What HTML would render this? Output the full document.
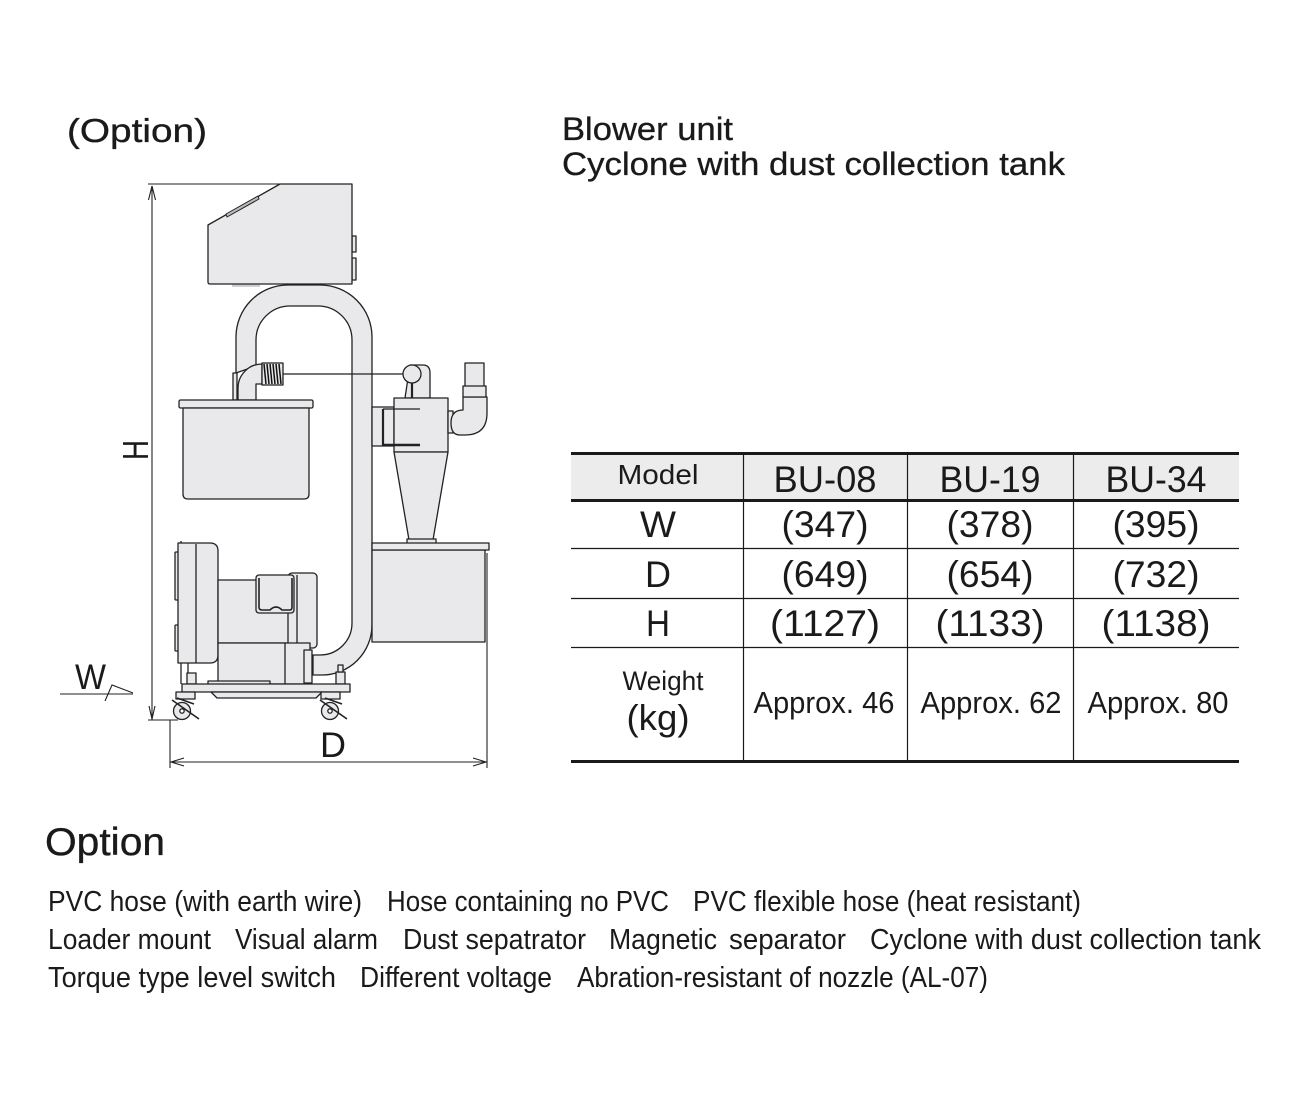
<!DOCTYPE html>
<html><head><meta charset="utf-8"><style>
html,body{margin:0;padding:0;background:#fff;}
svg{display:block;}
text{font-family:"Liberation Sans",sans-serif;fill:#1a1a1a;}
</style></head><body>
<svg width="1296" height="1100" viewBox="0 0 1296 1100" xmlns="http://www.w3.org/2000/svg">
<rect width="1296" height="1100" fill="#fff"/>

<!-- Titles -->
<text x="67" y="142" font-size="33" stroke="#1a1a1a" stroke-width="0.35" textLength="140" lengthAdjust="spacingAndGlyphs">(Option)</text>
<text x="562" y="140" font-size="32" stroke="#1a1a1a" stroke-width="0.3" textLength="171" lengthAdjust="spacingAndGlyphs">Blower unit</text>
<text x="562" y="175" font-size="32" stroke="#1a1a1a" stroke-width="0.3" textLength="503" lengthAdjust="spacingAndGlyphs">Cyclone with dust collection tank</text>

<!-- ===== Machine drawing ===== -->
<g stroke="#222" stroke-width="1.3" fill="#e9e9ec" stroke-linejoin="round">
  <!-- Top blower box -->
  <rect x="232" y="283" width="28" height="4" fill="#cfcfd3" stroke="none"/>
  <rect x="352" y="236" width="4" height="16" fill="#e9e9ec"/>
  <rect x="352" y="258" width="4" height="22" fill="#e9e9ec"/>
  <path d="M208,225 L280,184 L352,184 L352,284 L210,284 Q208,284 208,282 Z"/>
  <path d="M226,214 L258,196 L259,199 L227,217 Z" fill="#bbb" stroke-width="1"/>

  <!-- hose arch -->
  <path d="M236,373 L236,337 A52,52 0 0 1 288,285 L320,285 A52,52 0 0 1 372,337 L372,625 A50,50 0 0 1 322,675 L313,675 L313,655 L320,655 A32,32 0 0 0 352,623 L352,340 A34,34 0 0 0 318,306 L290,306 A34,34 0 0 0 256,340 L256,366 Z"/>

  <!-- left small pipe + elbow -->
  <rect x="233" y="373" width="4" height="27"/>
  <path d="M238,400 L238,388 A24,24 0 0 1 262,364 L262,384 L256,384 L256,400 Z"/>
  <!-- coil -->
  <rect x="262" y="363" width="21" height="22" fill="#e9e9ec"/>
  <g stroke-width="1.5" fill="none" stroke="#111">
    <path d="M264,364 L266,384 M267,364 L269,384 M270,364 L272,384 M273,364 L275,384 M276,364 L278,384 M279,364 L281,384"/>
  </g>
  <!-- wire -->
  <line x1="283" y1="374" x2="403" y2="374" fill="none"/>

  <!-- hopper -->
  <rect x="179" y="400" width="134" height="8" rx="1.5"/>
  <path d="M183,408 L183,494 Q183,499 188,499 L304,499 Q309,499 309,494 L309,408 Z"/>

  <!-- cyclone outlet pipe behind circle -->
  <path d="M410,365 L423,365 Q430,365 430,373 L430,398 L405,398 Z"/>
  <circle cx="412" cy="374" r="9"/>
  <line x1="412" y1="383" x2="412" y2="398" stroke-width="2.2"/>
  <!-- cyclone inlet -->
  <rect x="372" y="407" width="22" height="39"/>
  <!-- cyclone body -->
  <rect x="394" y="398" width="54" height="54"/>
  <line x1="383" y1="409" x2="383" y2="446" stroke-width="2.2"/>
  <line x1="383" y1="409" x2="420" y2="409"/>
  <line x1="383" y1="445" x2="420" y2="445" stroke-width="2.6"/>
  <path d="M394,452 L448,452 L433,540 L409,540 Z"/>
  <rect x="407" y="539" width="29" height="5"/>
  <!-- right outlet elbow -->
  <rect x="448" y="411" width="5" height="22"/>
  <rect x="465" y="363" width="19" height="24"/>
  <path d="M463,397 L487,397 L487,413 Q487,435 465,435 L460,435 Q451,435 451,423 Q451,410 463,410 Z"/>
  <rect x="463" y="386" width="23" height="11"/>

  <!-- dust tank -->
  <rect x="372" y="550" width="113" height="92"/>
  <rect x="372" y="543" width="117" height="7"/>

  <!-- Blower unit lower -->
  <line x1="181" y1="541" x2="181" y2="684"/>
  <rect x="175" y="552" width="5" height="48" rx="1"/>
  <rect x="175" y="625" width="5" height="26" rx="1"/>
  <path d="M178,543 L210,543 Q218,543 218,551 L218,655 Q218,663 210,663 L178,663 Z"/>
  <line x1="196" y1="544" x2="196" y2="663"/>
  <rect x="218" y="580" width="72" height="63"/>
  <rect x="288" y="573" width="29" height="75" rx="4"/>
  <line x1="297" y1="575" x2="297" y2="646"/>
  <rect x="256" y="575" width="38" height="38" rx="3"/>
  <path d="M259,578 L259,607 Q259,610 262,610 L270,610 Q276,604 282,610 L290,610 Q292,610 292,607 L292,578" fill="none" stroke-width="1.6"/>
  <rect x="218" y="643" width="92" height="41"/>
  <line x1="285" y1="643" x2="285" y2="684"/>
  <rect x="304" y="650" width="8" height="33"/>
  <rect x="187" y="673" width="9" height="11"/>
  <line x1="188" y1="663" x2="188" y2="673"/>
  <rect x="336" y="672" width="9" height="12"/>
  <rect x="338" y="665" width="5" height="7"/>
  <rect x="208" y="681" width="62" height="4"/>
  <rect x="182" y="684" width="168" height="8"/>
  <path d="M211,692 L322,692 L316,698 L217,698 Z"/>
  <!-- casters -->
  <rect x="176" y="692" width="19" height="7"/>
  <rect x="321" y="692" width="19" height="7"/>
  <circle cx="182" cy="711" r="8.5"/>
  <circle cx="182" cy="711" r="2.2" fill="#fff"/>
  <circle cx="330" cy="711" r="8.5"/>
  <circle cx="330" cy="711" r="2.2" fill="#fff"/>
  <g fill="none" stroke-width="1.6">
    <path d="M172,700 L199,719 M177,698 L194,704"/>
    <path d="M320,700 L347,719 M325,698 L342,704"/>
  </g>
</g>

<!-- Dimension lines -->
<g stroke="#222" stroke-width="1.1" fill="none">
  <line x1="152" y1="186" x2="152" y2="720"/>
  <line x1="148" y1="184" x2="280" y2="184"/>
  <path d="M148.5,200 L152,186 L155.5,200"/>
  <line x1="148" y1="720" x2="178" y2="720"/>
  <path d="M149,706 L152,719 L155,706"/>
  <line x1="170" y1="720" x2="170" y2="768"/>
  <line x1="487" y1="553" x2="487" y2="768"/>
  <line x1="170" y1="762" x2="487" y2="762"/>
  <path d="M184,758 L171,762 L184,766"/>
  <path d="M473,758 L486,762 L473,766"/>
  <line x1="60" y1="694" x2="133" y2="694"/>
  <path d="M105,701 L112,685 L133,693"/>
</g>
<text x="0" y="0" font-size="36" transform="translate(148,450) rotate(-90)" text-anchor="middle" textLength="20" lengthAdjust="spacingAndGlyphs">H</text>
<text x="75" y="689" font-size="35" textLength="31" lengthAdjust="spacingAndGlyphs">W</text>
<text x="333" y="757" font-size="35" text-anchor="middle" textLength="26" lengthAdjust="spacingAndGlyphs">D</text>

<!-- ===== Table ===== -->
<rect x="571" y="454" width="668" height="46" fill="#ececec"/>
<g stroke="#1a1a1a">
  <line x1="571" y1="453.5" x2="1239" y2="453.5" stroke-width="3"/>
  <line x1="571" y1="500.5" x2="1239" y2="500.5" stroke-width="3"/>
  <line x1="571" y1="548.5" x2="1239" y2="548.5" stroke-width="1.2"/>
  <line x1="571" y1="598.5" x2="1239" y2="598.5" stroke-width="1.2"/>
  <line x1="571" y1="647.5" x2="1239" y2="647.5" stroke-width="1.2"/>
  <line x1="571" y1="761.5" x2="1239" y2="761.5" stroke-width="3"/>
  <line x1="743.5" y1="453" x2="743.5" y2="761" stroke-width="1.2"/>
  <line x1="907.5" y1="453" x2="907.5" y2="761" stroke-width="1.2"/>
  <line x1="1073.5" y1="453" x2="1073.5" y2="761" stroke-width="1.2"/>
</g>
<g text-anchor="middle">
  <text x="658" y="484" font-size="28" textLength="81" lengthAdjust="spacingAndGlyphs">Model</text>
  <text x="825" y="492" font-size="37" textLength="103" lengthAdjust="spacingAndGlyphs">BU-08</text>
  <text x="990" y="492" font-size="37" textLength="101" lengthAdjust="spacingAndGlyphs">BU-19</text>
  <text x="1156" y="492" font-size="37" textLength="101" lengthAdjust="spacingAndGlyphs">BU-34</text>

  <text x="658" y="537" font-size="37" textLength="36" lengthAdjust="spacingAndGlyphs">W</text>
  <text x="825" y="537" font-size="37" textLength="87" lengthAdjust="spacingAndGlyphs">(347)</text>
  <text x="990" y="537" font-size="37" textLength="87" lengthAdjust="spacingAndGlyphs">(378)</text>
  <text x="1156" y="537" font-size="37" textLength="87" lengthAdjust="spacingAndGlyphs">(395)</text>

  <text x="658" y="587" font-size="37" textLength="26" lengthAdjust="spacingAndGlyphs">D</text>
  <text x="825" y="587" font-size="37" textLength="87" lengthAdjust="spacingAndGlyphs">(649)</text>
  <text x="990" y="587" font-size="37" textLength="87" lengthAdjust="spacingAndGlyphs">(654)</text>
  <text x="1156" y="587" font-size="37" textLength="87" lengthAdjust="spacingAndGlyphs">(732)</text>

  <text x="658" y="636" font-size="37" textLength="24" lengthAdjust="spacingAndGlyphs">H</text>
  <text x="825" y="636" font-size="37" textLength="110" lengthAdjust="spacingAndGlyphs">(1127)</text>
  <text x="990" y="636" font-size="37" textLength="109" lengthAdjust="spacingAndGlyphs">(1133)</text>
  <text x="1156" y="636" font-size="37" textLength="109" lengthAdjust="spacingAndGlyphs">(1138)</text>

  <text x="663" y="690" font-size="27" textLength="81" lengthAdjust="spacingAndGlyphs">Weight</text>
  <text x="658" y="730" font-size="36" textLength="63" lengthAdjust="spacingAndGlyphs">(kg)</text>
  <text x="824" y="713" font-size="31" textLength="141" lengthAdjust="spacingAndGlyphs">Approx. 46</text>
  <text x="991" y="713" font-size="31" textLength="141" lengthAdjust="spacingAndGlyphs">Approx. 62</text>
  <text x="1158" y="713" font-size="31" textLength="141" lengthAdjust="spacingAndGlyphs">Approx. 80</text>
</g>

<!-- ===== Option list ===== -->
<text x="45" y="855" font-size="39" stroke="#1a1a1a" stroke-width="0.35" textLength="120" lengthAdjust="spacingAndGlyphs">Option</text>
<g font-size="29">
  <text x="48" y="911" textLength="314" lengthAdjust="spacingAndGlyphs">PVC hose (with earth wire)</text>
  <text x="387" y="911" textLength="282" lengthAdjust="spacingAndGlyphs">Hose containing no PVC</text>
  <text x="693" y="911" textLength="388" lengthAdjust="spacingAndGlyphs">PVC flexible hose (heat resistant)</text>

  <text x="48" y="949" textLength="163" lengthAdjust="spacingAndGlyphs">Loader mount</text>
  <text x="235" y="949" textLength="143" lengthAdjust="spacingAndGlyphs">Visual alarm</text>
  <text x="403" y="949" textLength="183" lengthAdjust="spacingAndGlyphs">Dust sepatrator</text>
  <text x="609" y="949" textLength="108" lengthAdjust="spacingAndGlyphs">Magnetic</text>
  <text x="729" y="949" textLength="117" lengthAdjust="spacingAndGlyphs">separator</text>
  <text x="870" y="949" textLength="391" lengthAdjust="spacingAndGlyphs">Cyclone with dust collection tank</text>

  <text x="48" y="987" textLength="288" lengthAdjust="spacingAndGlyphs">Torque type level switch</text>
  <text x="360" y="987" textLength="192" lengthAdjust="spacingAndGlyphs">Different voltage</text>
  <text x="577" y="987" textLength="411" lengthAdjust="spacingAndGlyphs">Abration-resistant of nozzle (AL-07)</text>
</g>
</svg>
</body></html>
